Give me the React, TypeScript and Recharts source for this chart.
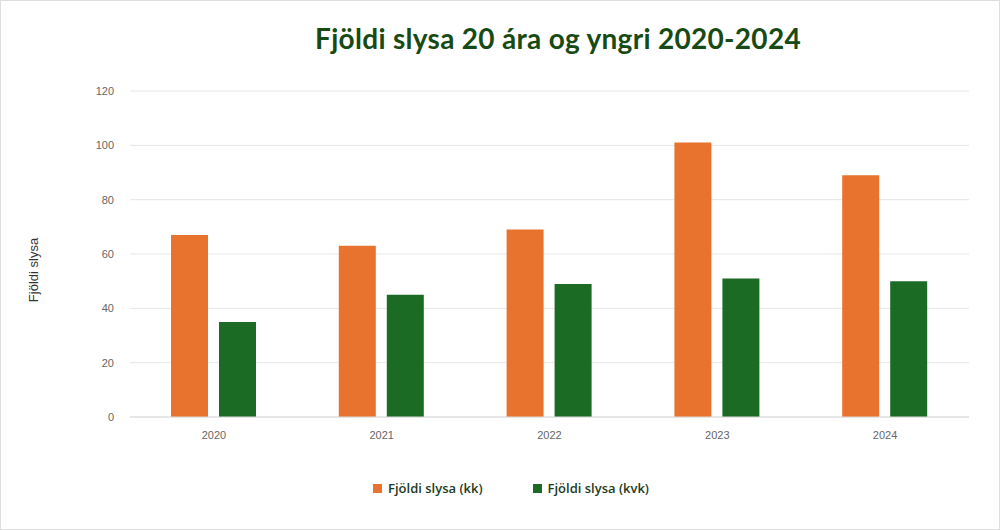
import { Bar, BarChart, CartesianGrid, Legend, XAxis, YAxis } from 'recharts';

const years = ['2020', '2021', '2022', '2023', '2024'];
const kk = [67, 63, 69, 101, 89];
const kvk = [35, 45, 49, 51, 50];
const yTicks = [0, 20, 40, 60, 80, 100, 120];

const ORANGE = '#E8732F';
const GREEN = '#1B6B24';

const data = years.map((year, i) => ({ year, kk: kk[i], kvk: kvk[i] }));

const series = [
  { key: 'kk', name: 'Fjöldi slysa (kk)', color: ORANGE },
  { key: 'kvk', name: 'Fjöldi slysa (kvk)', color: GREEN },
];

const tickFont = { fontSize: 11, fill: '#666', fontFamily: '"Liberation Sans", Arial, sans-serif' };

function LegendRow() {
  return (
    <div style={{ display: 'flex', justifyContent: 'center', gap: 50, marginLeft: 22 }}>
      {series.map((s) => (
        <div key={s.key} style={{ display: 'flex', alignItems: 'center', gap: 6 }}>
          <span style={{ width: 9, height: 9, background: s.color, display: 'inline-block' }} />
          <span style={{ fontFamily: '"Open Sans", sans-serif', fontSize: 13, fontWeight: 600, color: '#1d3b1d' }}>{s.name}</span>
        </div>
      ))}
    </div>
  );
}

export default function App() {
  return (
    <div
      style={{
        position: 'relative',
        width: 998,
        height: 528,
        border: '1px solid #dedede',
        background: '#fff',
        overflow: 'hidden',
      }}
    >
      <style>{'body { margin: 0; }'}</style>
      <div
        style={{
          position: 'absolute',
          top: 20,
          left: 0,
          width: 998,
          paddingLeft: 116,
          boxSizing: 'border-box',
          textAlign: 'center',
          fontFamily: 'Lato, sans-serif',
          fontWeight: 700,
          fontSize: 28,
          color: '#174a14',
          letterSpacing: 0.3,
        }}
      >
        Fjöldi slysa 20 ára og yngri 2020-2024
      </div>
      <div
        style={{
          position: 'absolute',
          left: 32,
          top: 269,
          transform: 'translate(-50%, -50%) rotate(-90deg)',
          fontFamily: '"Liberation Sans", Arial, sans-serif',
          fontSize: 13,
          color: '#333',
          whiteSpace: 'nowrap',
        }}
      >
        Fjöldi slysa
      </div>
      <BarChart
        width={998}
        height={528}
        data={data}
        margin={{ top: 90, right: 30, left: 0, bottom: 64 }}
        barSize={37}
        barGap={11}
      >
        <CartesianGrid vertical={false} stroke="#e6e6e6" />
        <XAxis
          dataKey="year"
          axisLine={{ stroke: '#dadada' }}
          tickLine={false}
          tick={tickFont}
          tickMargin={8}
          height={30}
        />
        <YAxis
          width={129}
          domain={[0, 120]}
          ticks={yTicks}
          axisLine={false}
          tickLine={false}
          tick={tickFont}
          tickMargin={10}
        />
        <Legend
          verticalAlign="bottom"
          content={() => <LegendRow />}
          wrapperStyle={{ position: 'absolute', top: 478, left: 0, width: 998, bottom: 'auto' }}
        />
        {series.map((s) => (
          <Bar key={s.key} dataKey={s.key} name={s.name} fill={s.color} isAnimationActive={false} />
        ))}
      </BarChart>
    </div>
  );
}
